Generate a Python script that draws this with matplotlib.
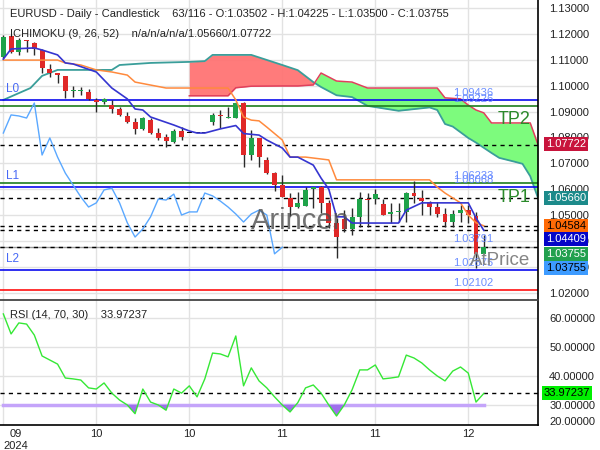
import matplotlib
matplotlib.use("Agg")
import matplotlib.pyplot as plt
import numpy as np

plt.rcParams["font.family"] = ["Liberation Sans", "DejaVu Sans"]

# daily EURUSD candles (index 0 = early Sept 2024)
opens = [1.1111, 1.1192, 1.1130, 1.1177, 1.1165, 1.1138, 1.1065, 1.1049, 1.1038, 1.0979,
         1.0979, 1.0976, 1.0945, 1.0937, 1.0925, 1.0910, 1.0883, 1.0860, 1.0831, 1.0867,
         1.0817, 1.0802, 1.0782, 1.0825, 1.0817, 1.0817, 1.0817, 1.0860, 1.0887, 1.0874,
         1.0875, 1.0933, 1.0732, 1.0798, 1.0713, 1.0662, 1.0616, 1.0566, 1.0531, 1.0535,
         1.0602, 1.0608, 1.0547, 1.0470, 1.0485, 1.0446, 1.0493, 1.0562, 1.0562, 1.0543,
         1.0504, 1.0511, 1.0512, 1.0585, 1.0566, 1.0550, 1.0531, 1.0504, 1.0473, 1.0508,
         1.0519, 1.0497, 1.03502]
highs = [1.1196, 1.1196, 1.1184, 1.1177, 1.1169, 1.1142, 1.1084, 1.1049, 1.1038, 1.0999,
         1.0995, 1.0987, 1.0952, 1.0952, 1.0945, 1.0918, 1.0898, 1.0875, 1.0879, 1.0875,
         1.0836, 1.0813, 1.0833, 1.0840, 1.0817, 1.0817, 1.0817, 1.0894, 1.0906, 1.0918,
         1.0937, 1.0937, 1.0829, 1.0798, 1.0724, 1.0666, 1.0655, 1.0585, 1.0589, 1.0608,
         1.0604, 1.0612, 1.0558, 1.0489, 1.0519, 1.0527, 1.0589, 1.0585, 1.0601, 1.0562,
         1.0547, 1.0547, 1.0589, 1.0631, 1.0597, 1.0554, 1.0550, 1.0527, 1.0519, 1.0539,
         1.0539, 1.0512, 1.04225]
lows = [1.1107, 1.1126, 1.1119, 1.1130, 1.1119, 1.1049, 1.1034, 1.1010, 1.0952, 1.0956,
        1.0963, 1.0945, 1.0898, 1.0929, 1.0894, 1.0883, 1.0856, 1.0813, 1.0829, 1.0815,
        1.0790, 1.0763, 1.0778, 1.0790, 1.0817, 1.0817, 1.0817, 1.0848, 1.0836, 1.0874,
        1.0875, 1.0686, 1.0713, 1.0686, 1.0660, 1.0593, 1.0568, 1.0497, 1.0529, 1.0533,
        1.0527, 1.0508, 1.0450, 1.0334, 1.0436, 1.0423, 1.0454, 1.0454, 1.0543, 1.0500,
        1.0470, 1.0473, 1.0473, 1.0547, 1.0500, 1.0500, 1.0493, 1.0454, 1.0454, 1.0473,
        1.0470, 1.0295, 1.03500]
closes = [1.1188, 1.1130, 1.1177, 1.1173, 1.1142, 1.1068, 1.1049, 1.1041, 1.0980, 1.0981,
          1.0981, 1.0949, 1.0937, 1.0949, 1.0910, 1.0887, 1.0860, 1.0833, 1.0875, 1.0817,
          1.0798, 1.0786, 1.0825, 1.0802, 1.0817, 1.0817, 1.0817, 1.0887, 1.0883, 1.0875,
          1.0933, 1.0732, 1.0798, 1.0724, 1.0662, 1.0616, 1.0570, 1.0531, 1.0547, 1.0597,
          1.0604, 1.0547, 1.0470, 1.0415, 1.0446, 1.0493, 1.0562, 1.0558, 1.0581, 1.0500,
          1.0512, 1.0512, 1.0585, 1.0574, 1.0554, 1.0531, 1.0504, 1.0473, 1.0504, 1.0519,
          1.0500, 1.0350, 1.03755]

# ichimoku lines (index, value)
tenkan_idx = [0, 1, 4, 5, 7, 8, 9, 12, 14, 16, 17, 18, 19, 22, 24, 25, 26, 28, 30, 31,
              33, 34, 36, 37, 38, 40, 41, 42, 43, 44, 45, 51, 52, 54, 60, 61, 62]
tenkan = [1.1103, 1.1142, 1.1146, 1.1138, 1.1119, 1.1088, 1.1084, 1.1053, 1.0991, 1.0949,
          1.0910, 1.0906, 1.0879, 1.0848, 1.0825, 1.0817, 1.0817, 1.0833, 1.0846, 1.0815,
          1.0809, 1.0790, 1.0759, 1.0724, 1.0724, 1.0693, 1.0643, 1.0600, 1.0493, 1.0493,
          1.0469, 1.0469, 1.0519, 1.0547, 1.0547, 1.0489, 1.04409]
kijun_idx = [0, 7, 8, 10, 12, 14, 16, 17, 21, 29, 30, 31, 32, 33, 34, 36, 37, 39, 42, 43,
             55, 56, 57, 59, 60, 61, 62]
kijun = [1.1099, 1.1099, 1.1088, 1.1080, 1.1061, 1.1053, 1.1041, 1.1014, 1.0991, 1.0991,
         1.0945, 1.0879, 1.0867, 1.0864, 1.0840, 1.0790, 1.0724, 1.0724, 1.0713, 1.0636,
         1.0636, 1.0608, 1.0585, 1.0547, 1.0500, 1.0470, 1.04584]
span_a_idx = [0, 3.5, 5, 7, 14, 15, 19, 24, 26, 27, 29, 30, 32, 36, 38, 40, 41, 43, 45, 47,
              51, 55, 56, 57, 58, 59, 60, 61, 62, 63, 64, 66, 67, 68, 69]
span_a = [1.0945, 1.0991, 1.1038, 1.1061, 1.1061, 1.1080, 1.1088, 1.1092, 1.1095, 1.1119,
          1.1119, 1.1119, 1.1119, 1.1080, 1.1060, 1.1014, 1.0995, 1.0963, 1.0956, 1.0922,
          1.0903, 1.0916, 1.0906, 1.0852, 1.0842, 1.0820, 1.0798, 1.0780, 1.0760, 1.0740,
          1.0721, 1.0706, 1.0698, 1.0650, 1.05660]
span_b_idx = [24, 26, 27, 29, 30, 32, 36, 38, 40, 41, 43, 45, 47, 51, 55, 56, 57, 58, 59, 60,
              61, 62, 63, 64, 66, 67, 68, 69]
span_b = [1.0961, 1.0961, 1.0961, 1.0961, 1.0992, 1.0998, 1.0999, 1.0999, 1.1003, 1.1049,
          1.1018, 1.1014, 1.0991, 1.0991, 1.0991, 1.0991, 1.0953, 1.0951, 1.0949, 1.0925,
          1.0906, 1.0895, 1.0856, 1.0856, 1.0856, 1.0856, 1.0856, 1.07722]
chikou_shift = 26

# RSI(14)
rsi = [61.4, 54.5, 58.3, 57.9, 54.1, 46.9, 45.5, 44.1, 39.3, 39.0,
       38.6, 35.9, 35.5, 37.6, 34.1, 31.7, 30.0, 27.0, 35.5, 31.0,
       30.0, 28.2, 35.5, 34.1, 36.6, 32.8, 39.0, 47.9, 47.6, 46.6,
       53.8, 36.6, 42.8, 38.3, 35.9, 32.8, 30.0, 27.6, 30.8, 35.9,
       36.9, 34.1, 30.0, 26.2, 30.0, 35.2, 42.1, 42.1, 43.8, 39.0,
       39.3, 39.7, 47.2, 46.2, 44.5, 42.1, 40.0, 38.3, 41.7, 43.1,
       41.0, 31.0, 33.97237]
rsi_low = 30

# levels
blue_levels = [1.09436, 1.06068, 1.02875]
blue_names = ["L0", "L1", "L2"]
green_levels = [1.09226, 1.06233]
stop_level = 1.02102
dashed_levels = [1.07722, 1.05660, 1.04584, 1.04409, 1.03755]
level_texts = [1.09436, 1.09226, 1.06233, 1.06068, 1.03791, 1.02875, 1.02102]

x_ticks = [0, 12, 24, 36, 48, 60]
x_labels = ["09\n2024", "10", "10", "11", "11", "12"]

GRID = "#e2e2e2"
UP, DOWN = "#1fa34a", "#e02828"

fig = plt.figure(figsize=(6, 4.5), dpi=100)
ax = fig.add_axes([0, 150 / 450, 538 / 600, 300 / 450])
rax = fig.add_axes([0, 25 / 450, 538 / 600, 125 / 450], sharex=ax)

idx = np.arange(len(closes))
o, h, l, c = map(np.array, (opens, highs, lows, closes))

# cloud
sa = np.array(span_a)
sa_idx = np.array(span_a_idx)
mask = sa_idx >= span_b_idx[0]
sb = np.array(span_b)
ax.fill_between(span_b_idx, sa[mask], sb, where=sa[mask] >= sb, interpolate=True,
                color="#ff7474", alpha=0.95, lw=0, zorder=1)
ax.fill_between(span_b_idx, sa[mask], sb, where=sa[mask] <= sb, interpolate=True,
                color="#7dfb7d", lw=0, zorder=1)
ax.plot(sa_idx, sa, color="#3a9e9a", lw=1.3, zorder=2)
ax.plot(span_b_idx, sb, color="#e0405c", lw=1.1, zorder=2)

# horizontal levels
for lv in green_levels:
    ax.axhline(lv, color="#1e7d1e", lw=1.2, zorder=2)
for lv, name in zip(blue_levels, blue_names):
    ax.axhline(lv, color="#0a0aee", lw=1.2, zorder=2)
    ax.annotate(name, (6, lv), xycoords=("figure pixels", "data"), xytext=(0, 5),
                textcoords="offset pixels", color="#4768f5", fontsize=8.5, va="bottom")
ax.axhline(stop_level, color="#ff1010", lw=1.2, zorder=2)
ax.axhline(dashed_levels[-1], color="#999999", lw=1, zorder=2)
for lv in dashed_levels:
    ax.axhline(lv, color="black", lw=1, ls=(0, (3, 3)), zorder=2.2)
for lv in level_texts:
    ax.annotate(f"{lv:.5f}", (453, lv), xycoords=("figure pixels", "data"),
                xytext=(0, 2), textcoords="offset pixels", color="#5c82ff",
                fontsize=8, va="bottom", alpha=0.9, zorder=5)

# candles
up = c >= o
flat = c == o
colors = np.where(flat, "black", np.where(up, UP, DOWN))
ax.vlines(idx, l, h, color="#2a2a2a", lw=1, zorder=3)
body = np.maximum(np.abs(c - o), 0.0005)
ax.bar(idx, body, bottom=np.minimum(o, c), width=0.64, color=colors, zorder=3.5)

ax.plot(kijun_idx, kijun, color="#ff8a3d", lw=1.1, zorder=4)
ax.plot(tenkan_idx, tenkan, color="#3535d0", lw=1.2, zorder=4)
ax.plot(idx[:len(idx) - chikou_shift], c[chikou_shift:], color="#5aa8ff", lw=1, zorder=4)

# big labels
ax.text(0.956, 0.603, "TP2", transform=ax.transAxes, color="#2b8a2b", fontsize=13,
        ha="center", va="center", zorder=6)
ax.text(0.956, 0.343, "TP1", transform=ax.transAxes, color="#2b8a2b", fontsize=13,
        ha="center", va="center", zorder=6)
ax.text(0.929, 0.133, "AtPrice", transform=ax.transAxes, color="#858585", fontsize=13.5,
        ha="center", va="center", zorder=6)
ax.text(0.558, 0.262, "Arincen", transform=ax.transAxes, color="#505050", fontsize=21,
        ha="center", va="center", alpha=0.8, zorder=6)
ax.text(0.957, -0.004, "SL", transform=ax.transAxes, color="#e01010", fontsize=13,
        ha="center", va="top", clip_on=True, zorder=6)

ax.set_xlim(-0.43, 69.0)
ax.set_ylim(1.01715, 1.13313)
ax.set_yticks(np.arange(1.02, 1.1305, 0.01))
ax.yaxis.tick_right()
ax.yaxis.set_major_formatter(plt.FuncFormatter(lambda v, _: f"{v:.5f}"))
ax.tick_params(axis="y", length=0, pad=8, labelsize=8, colors="#222222")
ax.tick_params(axis="x", length=0, labelbottom=False)
ax.grid(True, color=GRID, lw=1, zorder=0)
ax.set_axisbelow(True)
for side in ("left", "top", "bottom"):
    ax.spines[side].set_visible(False)
ax.spines["right"].set_color("black")
ax.spines["right"].set_linewidth(1.2)


def price_box(axis, value, text, face, fg, shift_px):
    axis.annotate(text, (1, value), xycoords=("axes fraction", "data"),
                  xytext=(8, shift_px), textcoords="offset pixels", ha="left",
                  va="center", fontsize=8, color=fg, zorder=7, annotation_clip=False,
                  bbox=dict(boxstyle="square,pad=0.18", fc=face, ec="none"))


price_box(ax, 1.07722, "1.07722", "#c8143c", "white", 1)
price_box(ax, 1.05660, "1.05660", "#1c8a8a", "white", 0)
price_box(ax, 1.04584, "1.04584", "#ff6a06", "black", 0)
price_box(ax, 1.04409, "1.04409", "#0505c8", "white", -9)
price_box(ax, 1.03755, "1.03755", "#22a04e", "white", -7)
price_box(ax, 1.03755, "1.03755", "#3d9bff", "black", -21)

fig.text(10 / 600, 1 - 14 / 450,
         "EURUSD - Daily - Candlestick    63/116 - O:1.03502 - H:1.04225 - L:1.03500 - C:1.03755",
         fontsize=8, va="center", color="#222222")
fig.text(10 / 600, 1 - 34 / 450, "ICHIMOKU (9, 26, 52)    n/a/n/a/n/a/1.05660/1.07722",
         fontsize=8, va="center", color="#222222", zorder=10)

# RSI panel
r = np.array(rsi)
rax.plot(idx, r, color="#35e835", lw=1, zorder=3)
rax.fill_between(idx, r, rsi_low, where=r < rsi_low, interpolate=True,
                 color="#9f70ec", lw=0, zorder=2.7)
rax.plot([idx[0], idx[-1]], [rsi_low, rsi_low], color="#c4a4fa", lw=2.5, zorder=2.5)
rax.axhline(r[-1], color="black", lw=1, ls=(0, (3, 3)), zorder=2.6)
rax.set_ylim(23.1, 66.2)
rax.set_yticks([30, 40, 50, 60])
rax.yaxis.tick_right()
rax.yaxis.set_major_formatter(plt.FuncFormatter(lambda v, _: f"{v:.5f}"))
rax.tick_params(axis="y", length=0, pad=8, labelsize=8, colors="#222222")
rax.text(1 + 11 / 538, 0.025, "20.00000", transform=rax.transAxes, fontsize=8,
         color="#222222", ha="left", va="center", clip_on=False)
rax.annotate(f"{rsi[-1]:.5f}", (1, rsi[-1]), xycoords=("axes fraction", "data"),
             xytext=(6, 0), textcoords="offset pixels", ha="left", va="center",
             fontsize=8, color="black", annotation_clip=False, zorder=7,
             bbox=dict(boxstyle="square,pad=0.18", fc="#00f000", ec="none"))
rax.text(10 / 538, 0.88, f"RSI (14, 70, 30)    {rsi[-1]:.5f}", transform=rax.transAxes,
         fontsize=8, va="center", color="#222222")
rax.set_xticks(x_ticks)
rax.set_xticklabels(x_labels)
rax.get_xticklabels()[0].set_ha("left")
rax.get_xticklabels()[0].set_multialignment("center")
rax.tick_params(axis="x", length=0, pad=3, labelsize=8, colors="#222222")
rax.grid(True, color=GRID, lw=1, zorder=0)
rax.set_axisbelow(True)
rax.spines["left"].set_visible(False)
rax.spines["top"].set_color("#444444")
rax.spines["top"].set_linewidth(1.3)
for side in ("right", "bottom"):
    rax.spines[side].set_color("black")
    rax.spines[side].set_linewidth(1.2)

fig.savefig("out.png", dpi=100)
